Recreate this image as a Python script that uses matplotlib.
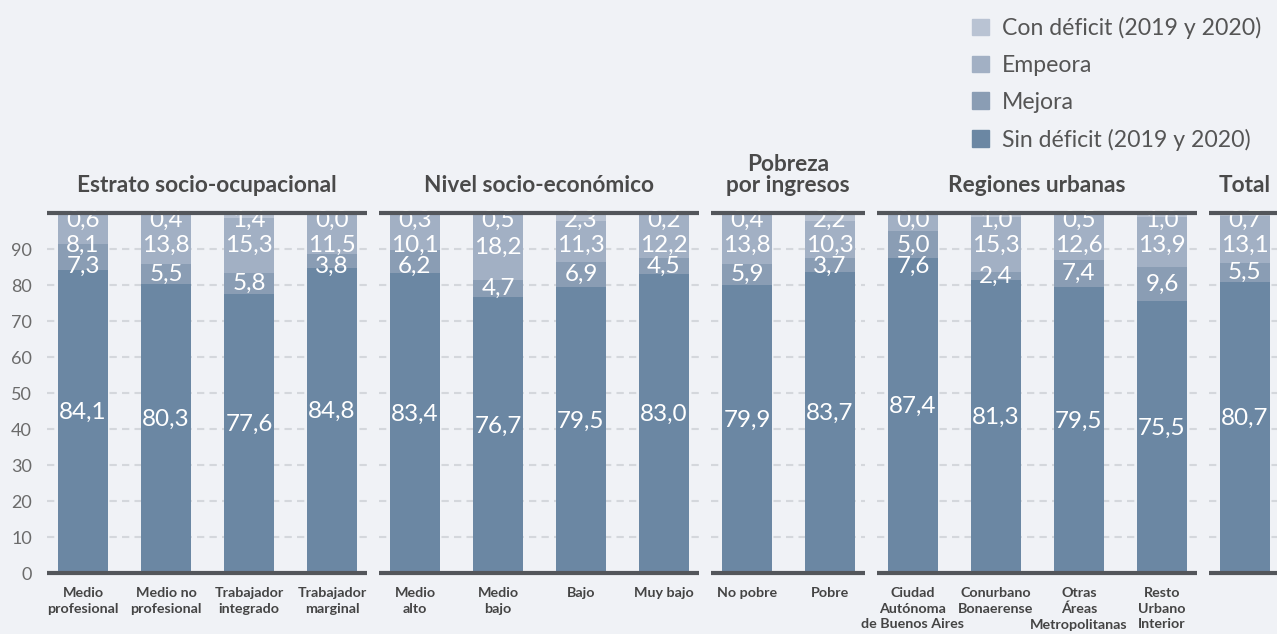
import matplotlib.pyplot as plt
from matplotlib.patches import Patch

# datos (%)
categorias = ["Medio\nprofesional", "Medio no\nprofesional", "Trabajador\nintegrado", "Trabajador\nmarginal",
              "Medio\nalto", "Medio\nbajo", "Bajo", "Muy bajo",
              "No pobre", "Pobre",
              "Ciudad\nAutónoma\nde Buenos Aires", "Conurbano\nBonaerense", "Otras\nÁreas\nMetropolitanas",
              "Resto\nUrbano\nInterior",
              ""]
grupos = ["Estrato socio-ocupacional", "Nivel socio-económico", "Pobreza\npor ingresos", "Regiones urbanas", "Total"]
tamanos = [4, 4, 2, 4, 1]

sin_deficit = [84.1, 80.3, 77.6, 84.8, 83.4, 76.7, 79.5, 83.0, 79.9, 83.7, 87.4, 81.3, 79.5, 75.5, 80.7]
mejora = [7.3, 5.5, 5.8, 3.8, 6.2, 4.7, 6.9, 4.5, 5.9, 3.7, 7.6, 2.4, 7.4, 9.6, 5.5]
empeora = [8.1, 13.8, 15.3, 11.5, 10.1, 18.2, 11.3, 12.2, 13.8, 10.3, 5.0, 15.3, 12.6, 13.9, 13.1]
con_deficit = [0.6, 0.4, 1.4, 0.0, 0.3, 0.5, 2.3, 0.2, 0.4, 2.2, 0.0, 1.0, 0.5, 1.0, 0.7]

colores = {"sin": "#6b87a3", "mejora": "#8a9db4", "empeora": "#a2b0c4", "con": "#b9c3d3"}
fondo = "#f0f2f6"

plt.rcParams["font.family"] = ["Lato", "DejaVu Sans"]

fig = plt.figure(figsize=(12.77, 6.34), dpi=100, facecolor=fondo)
# 1 unidad en x = 83 px, barra 0 centrada en 83 px
x0, x1 = -0.494, 14.386
ax = fig.add_axes([42 / 1277, 61 / 634, 1 - 42 / 1277, 360 / 634])
ax.set_facecolor(fondo)
ax.set_xlim(x0, x1)
ax.set_ylim(0, 100)
for s in ax.spines.values():
    s.set_visible(False)

x = list(range(len(sin_deficit)))
ancho = 50 / 83
base2 = [a + b for a, b in zip(sin_deficit, mejora)]
base3 = [a + b for a, b in zip(base2, empeora)]
ax.bar(x, sin_deficit, ancho, color=colores["sin"], zorder=2)
ax.bar(x, mejora, ancho, bottom=sin_deficit, color=colores["mejora"], zorder=2)
ax.bar(x, empeora, ancho, bottom=base2, color=colores["empeora"], zorder=2)
ax.bar(x, con_deficit, ancho, bottom=base3, color=colores["con"], zorder=2)

def fmt(v):
    return f"{v:.1f}".replace(".", ",")

kw = dict(ha="center", va="center", color="white", fontsize=17.5, fontweight="normal", zorder=4)
for i in x:
    ax.text(i, sin_deficit[i] / 2 + 2.5, fmt(sin_deficit[i]), **kw)
    y_con = 98
    y_emp = min(base2[i] + empeora[i] / 2, 91)
    y_mej = min(sin_deficit[i] + mejora[i] / 2, y_emp - 5.8)
    ax.text(i, y_con, fmt(con_deficit[i]), **kw)
    ax.text(i, y_emp, fmt(empeora[i]), **kw)
    ax.text(i, y_mej, fmt(mejora[i]), **kw)

# paneles: lineas, grilla y titulos
inicio = 0
for nombre, n in zip(grupos, tamanos):
    ini, fin = inicio, inicio + n - 1
    izq = max(ini - ancho / 2 - 11 / 83, x0)
    der = fin + ancho / 2 + 10 / 83
    ax.hlines(range(10, 100, 10), izq, der, colors="#d4d7dc", linewidth=1.5,
              linestyles=(0, (3.5, 2.5)), zorder=0)
    ax.hlines([0, 100], izq, der, colors="#53565b", linewidth=3, zorder=5, clip_on=False)
    cx = (izq + der) / 2 if n > 1 else ini
    ax.text(cx, 104.6, nombre, ha="center", va="bottom", fontsize=16.3, fontweight="bold",
            color="#4a4a4a", linespacing=1.05)
    inicio += n

ax.set_yticks(range(0, 100, 10))
ax.tick_params(axis="y", length=0, pad=7.2, labelsize=13, labelcolor="#6b6b6b")
ax.set_xticks(x)
ax.set_xticklabels(categorias, fontsize=10.3, fontweight="bold", color="#444444", linespacing=1.38)
ax.tick_params(axis="x", length=0, pad=10)

handles = [Patch(color=colores["con"]), Patch(color=colores["empeora"]),
           Patch(color=colores["mejora"]), Patch(color=colores["sin"])]
etiquetas = ["Con déficit (2019 y 2020)", "Empeora", "Mejora", "Sin déficit (2019 y 2020)"]
fig.legend(handles, etiquetas, loc="upper left", bbox_to_anchor=(972 / 1277, 1 - 17 / 634),
           frameon=False, fontsize=16.6, labelcolor="#555555", borderpad=0, borderaxespad=0,
           handlelength=0.74, handleheight=0.74, handletextpad=0.56, labelspacing=0.69)

plt.savefig("out.png", dpi=100, facecolor=fondo)
